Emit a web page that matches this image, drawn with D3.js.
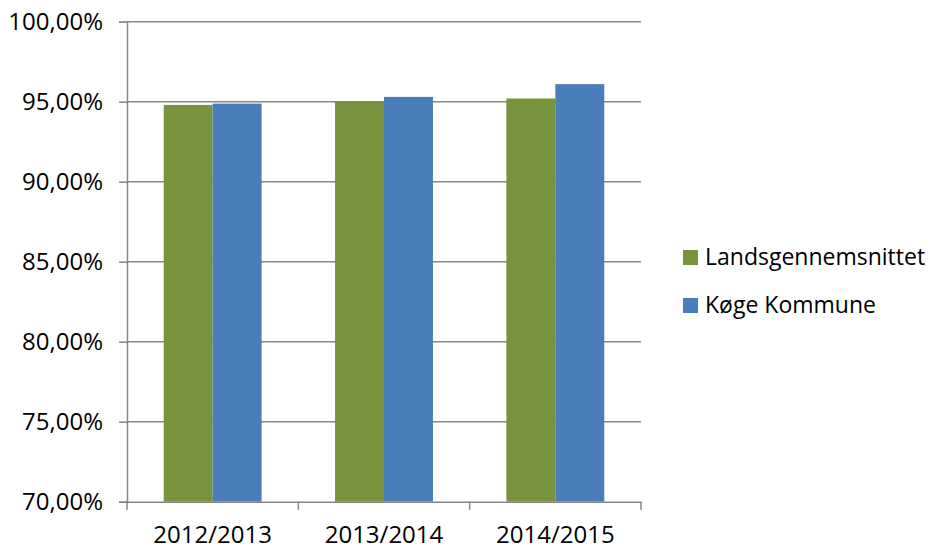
<!DOCTYPE html>
<html><head><meta charset="utf-8">
<script src="https://cdn.jsdelivr.net/npm/d3@7"></script>
<style>body{margin:0;background:#fff;} text{font-family:"Open Sans",sans-serif;fill:#000;}</style>
</head><body>
<svg id="chart" width="933" height="549"></svg>
<script>
const categories = ["2012/2013", "2013/2014", "2014/2015"];
const seriesNames = ["Landsgennemsnittet", "Køge Kommune"];
const landsValues = [94.8, 95.04, 95.2];
const koegeValues = [94.88, 95.3, 96.1];
const yTicks = [70, 75, 80, 85, 90, 95, 100];
const colors = ["#77933C", "#4A7EBB"];

const svg = d3.select("#chart");
const mLeft = 127, mRight = 641, mTop = 21.7, mBottom = 501.7;
const x0 = d3.scaleBand().domain(categories).range([mLeft, mRight]).padding(0);
const x1 = d3.scaleBand().domain(seriesNames).range([0, x0.bandwidth()]).paddingInner(0).paddingOuter(0.75);
const y = d3.scaleLinear().domain([70, 100]).range([mBottom, mTop]);
const fmt = v => v.toFixed(2).replace(".", ",") + "%";
const gridColor = "#868686";

// gridlines
svg.append("g").selectAll("line").data(yTicks.filter(t => t > 70)).join("line")
  .attr("x1", mLeft).attr("x2", mRight).attr("y1", d => y(d)).attr("y2", d => y(d))
  .attr("stroke", gridColor).attr("stroke-width", 1.5);

// bars
const data = categories.map((c, i) => ({cat: c, vals: [landsValues[i], koegeValues[i]]}));
const g = svg.append("g").selectAll("g").data(data).join("g")
  .attr("transform", d => `translate(${x0(d.cat)},0)`);
g.selectAll("rect").data(d => d.vals.map((v, j) => ({name: seriesNames[j], v, j}))).join("rect")
  .attr("x", d => x1(d.name)).attr("width", x1.bandwidth())
  .attr("y", d => y(d.v)).attr("height", d => y(70) - y(d.v))
  .attr("fill", d => colors[d.j]);

// y axis
const yAxis = d3.axisLeft(y).tickValues(yTicks).tickFormat(fmt).tickSize(8).tickPadding(16);
const ya = svg.append("g").attr("transform", `translate(${mLeft},0)`).call(yAxis);
ya.attr("font-family", null).attr("font-size", null);
ya.select(".domain").attr("stroke", gridColor).attr("stroke-width", 1.5);
ya.selectAll(".tick line").attr("stroke", gridColor).attr("stroke-width", 1.5);
ya.selectAll(".tick text").style("font-size", "24px");

// x axis
const xAxis = d3.axisBottom(x0).tickSize(0).tickPadding(0);
const xa = svg.append("g").attr("transform", `translate(0,${mBottom})`).call(xAxis);
xa.attr("font-family", null).attr("font-size", null);
xa.select(".domain").attr("stroke", gridColor).attr("stroke-width", 1.5);
xa.selectAll(".tick text").style("font-size", "24px").attr("dy", null).attr("y", 41.5);
// boundary ticks
const bounds = categories.map(c => x0(c)).concat([x0(categories[categories.length - 1]) + x0.bandwidth()]);
xa.selectAll("line.bound").data(bounds).join("line").attr("class", "bound")
  .attr("x1", d => d).attr("x2", d => d).attr("y1", 0).attr("y2", 8)
  .attr("stroke", gridColor).attr("stroke-width", 1.5);

// legend
const lg = svg.append("g").selectAll("g").data(seriesNames).join("g")
  .attr("transform", (d, i) => `translate(683,${250 + i * 48})`);
lg.append("rect").attr("width", 15).attr("height", 15).attr("fill", (d, i) => colors[i]);
lg.append("text").attr("x", 22).attr("y", 15).style("font-size", "23px").text(d => d);
</script>
</body></html>
